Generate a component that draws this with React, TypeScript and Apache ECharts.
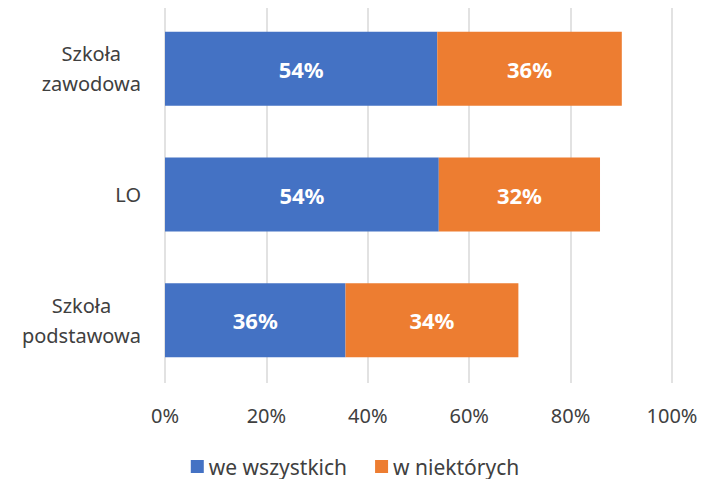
import React, { useEffect, useRef } from "react";
import * as echarts from "echarts";

const categories = ["Szkoła zawodowa", "LO", "Szkoła podstawowa"];
const seriesNames = ["we wszystkich", "w niektórych"];
const weWszystkich = [53.7, 54.0, 35.6];
const wNiektorych = [36.4, 31.8, 34.1];
const xTicks = [0, 20, 40, 60, 80, 100];

const FONT = "'Noto Sans', 'Open Sans', sans-serif";
const TEXT = "#404040";

export default function App() {
  const ref = useRef<HTMLDivElement>(null);
  useEffect(() => {
    if (!ref.current) return;
    const chart = echarts.init(ref.current, undefined, { renderer: "svg" });
    const label = {
      show: true,
      position: "inside",
      color: "#ffffff",
      fontWeight: "bold",
      fontSize: 22,
      fontFamily: FONT,
      formatter: (p: any) => Math.round(p.value) + "%",
    };
    chart.setOption({
      animation: false,
      textStyle: { fontFamily: FONT },
      grid: { left: 165, right: 38, top: 6, bottom: 96, containLabel: false },
      xAxis: {
        type: "value",
        min: xTicks[0],
        max: xTicks[xTicks.length - 1],
        interval: 20,
        axisLine: { show: false },
        axisTick: { show: false },
        splitLine: { show: true, lineStyle: { color: "#d9d9d9", width: 1.5 } },
        axisLabel: {
          formatter: (v: number) => v + "%",
          fontSize: 20,
          color: TEXT,
          fontFamily: FONT,
          margin: 22,
        },
      },
      yAxis: {
        type: "category",
        data: categories,
        inverse: true,
        axisLine: { show: false },
        axisTick: { show: false },
        splitLine: { show: false },
        axisLabel: {
          margin: 24,
          align: "right",
          formatter: (v: string) =>
            v
              .split(" ")
              .map((w) => "{c|" + w + "}")
              .join("\n"),
          rich: {
            c: {
              align: "center",
              fontSize: 20,
              lineHeight: 30,
              color: TEXT,
              fontFamily: FONT,
            },
          },
        },
      },
      legend: {
        data: seriesNames,
        top: 454,
        left: "center",
        itemWidth: 13,
        itemHeight: 13,
        itemGap: 28,
        icon: "rect",
        padding: 0,
        textStyle: { fontSize: 21, color: TEXT, fontFamily: FONT, lineHeight: 25 },
      },
      series: [
        {
          name: seriesNames[0],
          type: "bar",
          stack: "total",
          barWidth: 74,
          data: weWszystkich,
          itemStyle: { color: "#4472C4" },
          label,
        },
        {
          name: seriesNames[1],
          type: "bar",
          stack: "total",
          barWidth: 74,
          data: wNiektorych,
          itemStyle: { color: "#ED7D31" },
          label,
        },
      ],
    });
    return () => chart.dispose();
  }, []);
  return <div ref={ref} style={{ width: 710, height: 479, marginLeft: -8, marginTop: -8 }} />;
}
